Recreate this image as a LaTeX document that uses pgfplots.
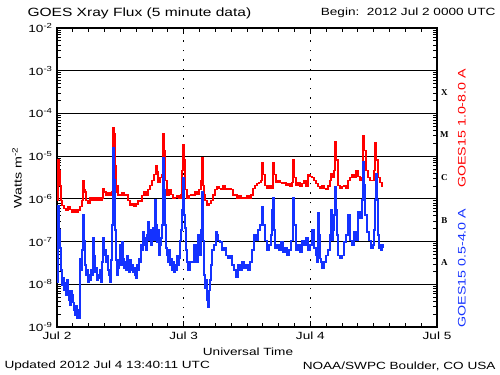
\documentclass[border=0pt]{standalone}
\usepackage{fontspec}
\setmainfont[FakeStretch=1.3]{Liberation Sans}
\newfontfamily\classfont{Liberation Serif}
\usepackage{graphicx}
\usepackage{pgfplots}
\pgfplotsset{compat=1.18}
\definecolor{goesred}{RGB}{255,0,0}
\definecolor{goesblue}{RGB}{20,50,255}
\begin{document}
\begin{tikzpicture}
\useasboundingbox (-57bp,-48bp) rectangle (443bp,327bp);
\begin{axis}[
  at={(0,0)}, anchor=south west, scale only axis,
  width=380bp, height=299bp,
  xmin=0, xmax=72, ymin=-9, ymax=-2,
  clip=false,
  axis line style={line width=1.2bp},
  xtick={0,24,48,72}, xticklabels={Jul 2,Jul 3,Jul 4,Jul 5},
  minor x tick num=7,
  ytick={-9,-8,-7,-6,-5,-4,-3,-2},
  yticklabel={10\textsuperscript{\pgfmathtruncatemacro\ex{\tick}\ex}},
  minor ytick={-8.699,-8.523,-8.398,-8.301,-8.222,-8.155,-8.097,-8.046,
               -7.699,-7.523,-7.398,-7.301,-7.222,-7.155,-7.097,-7.046,
               -6.699,-6.523,-6.398,-6.301,-6.222,-6.155,-6.097,-6.046,
               -5.699,-5.523,-5.398,-5.301,-5.222,-5.155,-5.097,-5.046,
               -4.699,-4.523,-4.398,-4.301,-4.222,-4.155,-4.097,-4.046,
               -3.699,-3.523,-3.398,-3.301,-3.222,-3.155,-3.097,-3.046,
               -2.699,-2.523,-2.398,-2.301,-2.222,-2.155,-2.097,-2.046},
  tick align=inside, major tick length=6bp, minor tick length=4bp,
  tick style={black, line width=0.8bp},
  ymajorgrids, major grid style={black, line width=1.2bp},
  extra x ticks={24,48}, extra x tick labels={},
  extra x tick style={grid=major, major grid style={black, line width=1.2bp, dash pattern=on 1.5bp off 8bp}},
  /pgf/number format/assume math mode=true,
  tick label style={font=\fontsize{10.5}{12}\selectfont},
  xticklabel style={yshift=-1bp},
  yticklabel style={xshift=-1bp},
]
\addplot[goesred, line width=1.1bp, const plot] table {
0.00 -6.03
0.19 -5.09
0.38 -5.33
0.57 -5.68
0.76 -6.03
0.95 -6.15
1.33 -6.22
1.71 -6.26
2.08 -6.19
2.46 -6.24
2.84 -6.31
3.22 -6.26
3.60 -6.31
3.98 -6.26
4.36 -6.17
4.74 -6.03
4.93 -5.56
5.12 -5.79
5.31 -5.84
5.49 -6.03
5.87 -6.10
6.25 -5.98
6.63 -6.03
7.01 -5.98
7.39 -6.03
7.77 -5.98
8.15 -6.03
8.53 -5.98
8.72 -5.75
8.91 -5.84
9.28 -5.91
9.66 -5.86
10.04 -5.93
10.42 -5.84
10.61 -4.32
10.80 -4.46
10.99 -5.21
11.18 -5.84
11.37 -5.68
11.56 -5.91
11.94 -5.91
12.32 -5.86
12.69 -5.93
13.07 -5.91
13.45 -6.03
13.83 -6.15
14.21 -6.10
14.59 -6.17
14.97 -6.12
15.35 -6.03
15.73 -6.07
16.11 -5.93
16.48 -5.84
16.86 -5.93
17.24 -5.79
17.62 -5.68
18.00 -5.56
18.38 -5.44
18.76 -5.21
18.95 -5.37
19.14 -5.61
19.52 -5.51
19.89 -5.44
20.08 -4.46
20.27 -4.86
20.46 -5.56
20.84 -5.91
21.22 -5.79
21.60 -5.89
21.98 -5.98
22.36 -5.96
22.74 -5.93
23.12 -5.98
23.49 -5.91
23.68 -5.33
23.87 -4.74
24.06 -5.09
24.25 -5.79
24.63 -5.98
25.01 -5.93
25.39 -5.89
25.77 -5.91
26.15 -5.84
26.53 -5.89
26.91 -5.79
27.28 -5.56
27.47 -5.04
27.66 -5.68
27.85 -5.91
28.04 -6.03
28.42 -6.15
28.80 -6.10
29.18 -6.03
29.56 -5.91
29.94 -5.79
30.32 -5.72
30.69 -5.75
31.07 -5.79
31.45 -5.70
31.83 -5.77
32.21 -5.79
32.59 -5.75
32.97 -5.79
33.35 -5.91
33.73 -5.91
34.11 -5.98
34.48 -5.93
34.86 -5.98
35.24 -5.96
35.62 -5.98
36.00 -5.93
36.38 -5.98
36.76 -5.91
37.14 -5.75
37.52 -5.68
37.89 -5.63
38.27 -5.61
38.65 -5.56
38.84 -5.14
39.03 -5.44
39.41 -5.68
39.79 -5.75
40.17 -5.70
40.55 -5.75
40.93 -5.16
41.12 -5.44
41.49 -5.61
41.87 -5.56
42.25 -5.61
42.63 -5.65
43.01 -5.61
43.39 -5.68
43.77 -5.65
44.15 -5.70
44.53 -5.61
44.72 -5.09
44.91 -5.51
45.28 -5.68
45.66 -5.61
46.04 -5.70
46.42 -5.63
46.80 -5.56
47.18 -5.70
47.56 -5.44
47.94 -5.47
48.32 -5.51
48.69 -5.56
49.07 -5.63
49.45 -5.72
49.83 -5.75
50.21 -5.70
50.59 -5.75
50.97 -5.79
51.35 -5.70
51.73 -5.56
51.92 -5.40
52.11 -5.51
52.48 -5.33
52.67 -4.67
52.86 -5.09
53.24 -5.68
53.62 -5.75
54.00 -5.72
54.38 -5.70
54.76 -5.75
55.14 -5.56
55.52 -5.51
55.89 -5.42
56.27 -5.51
56.65 -5.33
57.03 -5.47
57.41 -5.56
57.79 -5.51
57.98 -4.51
58.17 -4.86
58.55 -5.33
58.93 -5.51
59.31 -5.56
59.68 -5.56
60.06 -5.33
60.25 -4.69
60.44 -5.09
60.82 -5.51
61.20 -5.61
61.58 -5.70
61.77 -5.70
};
\addplot[goesblue, line width=1.4bp, const plot] table {
0.00 -7.55
0.10 -7.95
0.19 -6.15
0.38 -6.73
0.57 -7.15
0.76 -7.67
0.95 -8.02
1.14 -7.85
1.33 -8.14
1.52 -7.97
1.71 -8.25
1.89 -7.90
2.08 -8.14
2.27 -8.37
2.46 -8.49
2.65 -8.14
2.84 -8.25
3.03 -8.42
3.22 -8.60
3.41 -8.72
3.60 -8.49
3.79 -8.79
3.98 -8.60
4.17 -8.79
4.36 -7.39
4.55 -7.67
4.74 -7.20
4.93 -6.38
5.12 -6.97
5.31 -7.55
5.49 -7.78
5.68 -7.67
5.87 -7.95
6.06 -7.78
6.25 -7.90
6.44 -7.67
6.63 -7.78
6.82 -6.92
7.01 -7.32
7.20 -7.71
7.39 -7.62
7.58 -7.90
7.77 -7.78
7.96 -7.85
8.15 -7.67
8.34 -7.95
8.53 -7.48
8.72 -6.92
8.91 -7.32
9.09 -7.20
9.28 -7.48
9.47 -7.32
9.66 -7.67
9.85 -7.78
10.04 -7.95
10.23 -7.43
10.42 -6.61
10.61 -4.81
10.80 -5.56
10.99 -6.73
11.18 -7.43
11.37 -7.78
11.56 -7.62
11.75 -7.43
11.94 -7.08
12.13 -7.55
12.32 -7.01
12.51 -7.39
12.69 -7.62
12.88 -7.48
13.07 -7.67
13.26 -7.32
13.45 -7.55
13.64 -7.71
13.83 -7.43
14.02 -7.67
14.21 -7.55
14.40 -7.71
14.59 -7.62
14.78 -7.78
14.97 -7.85
15.16 -7.55
15.35 -7.67
15.54 -7.39
15.73 -7.48
15.92 -7.08
16.11 -7.20
16.29 -6.78
16.48 -7.08
16.67 -6.92
16.86 -7.20
17.05 -6.85
17.24 -6.54
17.43 -6.97
17.62 -6.73
17.81 -7.08
18.00 -6.92
18.19 -6.68
18.38 -6.97
18.57 -6.03
18.76 -6.61
18.95 -7.01
19.14 -6.73
19.33 -7.32
19.52 -7.08
19.71 -6.92
19.89 -6.61
20.08 -5.04
20.27 -5.79
20.46 -6.61
20.65 -7.15
20.84 -7.32
21.03 -7.48
21.22 -7.20
21.41 -7.55
21.60 -7.39
21.79 -7.67
21.98 -7.48
22.17 -7.71
22.36 -7.55
22.55 -7.67
22.74 -7.32
22.93 -7.55
23.12 -7.39
23.31 -6.97
23.49 -6.73
23.68 -6.26
23.87 -5.51
24.06 -6.38
24.25 -6.68
24.44 -7.20
24.63 -7.48
24.82 -7.67
25.20 -7.48
25.58 -7.48
25.96 -7.08
26.34 -7.48
26.72 -6.85
27.09 -7.32
27.28 -6.73
27.47 -5.84
27.66 -6.97
27.85 -7.78
28.04 -8.09
28.23 -7.90
28.42 -8.37
28.61 -8.53
28.80 -8.14
28.99 -7.90
29.18 -7.55
29.37 -7.20
29.75 -7.08
30.13 -6.78
30.32 -6.85
30.51 -6.97
30.88 -7.01
31.26 -7.20
31.64 -7.15
32.02 -7.32
32.40 -7.39
32.78 -7.32
33.16 -7.55
33.54 -7.67
33.92 -7.83
34.29 -7.55
34.67 -7.67
35.05 -7.48
35.43 -7.62
35.81 -7.55
36.19 -7.67
36.57 -7.48
36.95 -7.20
37.33 -6.85
37.71 -6.97
38.08 -6.73
38.46 -6.61
38.84 -6.19
39.03 -6.61
39.41 -6.97
39.79 -7.20
40.17 -7.08
40.55 -6.85
40.74 -6.26
40.93 -5.98
41.12 -6.73
41.31 -7.15
41.68 -7.08
42.06 -7.20
42.44 -7.01
42.82 -7.25
43.20 -7.15
43.58 -7.32
43.96 -7.20
44.34 -6.97
44.72 -5.98
44.91 -6.61
45.28 -7.20
45.66 -7.08
46.04 -7.25
46.42 -6.97
46.80 -7.08
47.18 -6.92
47.56 -7.20
47.94 -7.08
48.32 -6.73
48.69 -7.15
49.07 -7.32
49.26 -7.48
49.45 -6.33
49.64 -6.85
49.83 -7.39
50.02 -7.48
50.21 -7.62
50.59 -7.48
50.97 -7.32
51.35 -7.20
51.73 -6.85
51.92 -6.26
52.11 -6.97
52.29 -6.73
52.48 -6.38
52.67 -5.72
52.86 -6.26
53.05 -6.85
53.24 -7.32
53.62 -7.39
54.00 -7.32
54.38 -7.01
54.76 -6.85
55.14 -6.38
55.52 -6.97
55.89 -7.08
56.27 -6.78
56.65 -6.97
57.03 -6.31
57.41 -6.45
57.79 -6.03
57.98 -5.14
58.17 -5.68
58.36 -6.38
58.74 -6.78
59.12 -6.97
59.49 -7.15
59.87 -7.08
60.06 -6.73
60.25 -6.03
60.44 -5.40
60.63 -6.03
60.82 -6.85
61.01 -7.15
61.20 -7.08
61.39 -7.20
61.58 -7.08
61.77 -7.15
};
\node[font=\classfont\bfseries\fontsize{9}{10}\selectfont] at (axis cs:73.4,-3.5) {X};
\node[font=\classfont\bfseries\fontsize{9}{10}\selectfont] at (axis cs:73.4,-4.5) {M};
\node[font=\classfont\bfseries\fontsize{9}{10}\selectfont] at (axis cs:73.4,-5.5) {C};
\node[font=\classfont\bfseries\fontsize{9}{10}\selectfont] at (axis cs:73.4,-6.5) {B};
\node[font=\classfont\bfseries\fontsize{9}{10}\selectfont] at (axis cs:73.4,-7.5) {A};
\node[goesred, rotate=90, font=\fontsize{11}{12}\selectfont] at (axis cs:76.7,-4.35) {GOES15 1.0-8.0 A};
\node[goesblue, rotate=90, font=\fontsize{11}{12}\selectfont] at (axis cs:76.7,-7.62) {GOES15 0.5-4.0 A};
\end{axis}
\node[anchor=west, font=\fontsize{12}{14}\selectfont] at (-33bp,314bp) {GOES Xray Flux (5 minute data)};
\node[anchor=east, font=\fontsize{10.5}{12}\selectfont] at (442bp,314bp) {Begin:\ \ 2012 Jul 2 0000 UTC};
\node[rotate=90, font=\fontsize{11}{13}\selectfont] at (-40bp,149bp) {Watts m\textsuperscript{-2}};
\node[font=\fontsize{10.5}{12}\selectfont] at (191bp,-25bp) {Universal Time};
\node[anchor=west, font=\fontsize{10.5}{12}\selectfont] at (-56bp,-39bp) {Updated 2012 Jul 4 13:40:11 UTC};
\node[anchor=east, font=\fontsize{10.5}{12}\selectfont] at (442bp,-39bp) {NOAA/SWPC Boulder, CO USA};
\end{tikzpicture}
\end{document}
